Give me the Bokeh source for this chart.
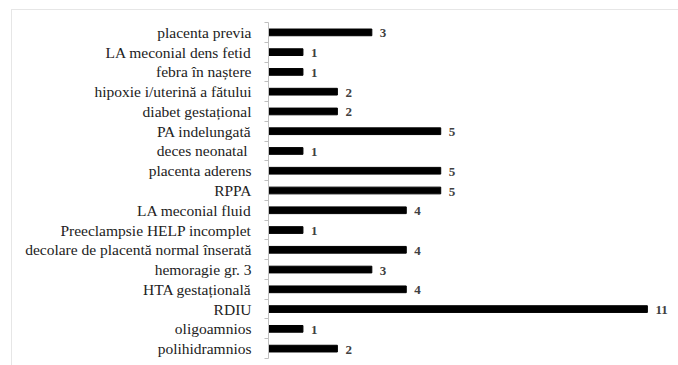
from bokeh.plotting import figure
from bokeh.models import Range1d, FixedTicker, ColumnDataSource
from bokeh.core.properties import value
from bokeh.embed import file_html
from bokeh.resources import INLINE

# categories listed top to bottom as in the chart
categories = [
    "placenta previa",
    "LA meconial dens fetid",
    "febra în naștere",
    "hipoxie i/uterină a fătului",
    "diabet gestațional",
    "PA indelungată",
    "deces neonatal ",
    "placenta aderens",
    "RPPA",
    "LA meconial fluid",
    "Preeclampsie HELP incomplet",
    "decolare de placentă normal înserată",
    "hemoragie gr. 3",
    "HTA gestațională",
    "RDIU",
    "oligoamnios",
    "polihidramnios",
]
counts = [3, 1, 1, 2, 2, 5, 1, 5, 5, 4, 1, 4, 3, 4, 11, 1, 2]

SERIF = "'Liberation Serif', 'Times New Roman', 'DejaVu Serif', serif"

n = len(categories)
ypos = [n - 1 - i for i in range(n)]
src = ColumnDataSource(dict(y=ypos, v=counts, lab=[str(c) for c in counts], cat=categories))

p = figure(width=667, height=356, output_backend="svg", toolbar_location=None,
           x_range=Range1d(0, 11.7), y_range=Range1d(-0.5, n - 0.5),
           min_border_left=256, min_border_right=8, min_border_top=12, min_border_bottom=8,
           background_fill_color="white", border_fill_color="white")
p.outline_line_color = None
p.xgrid.visible = False
p.ygrid.visible = False
p.xaxis.visible = False

p.hbar(y="y", right="v", left=0, height=0.34, color="black", source=src)
p.text(x="v", y="y", text="lab", source=src, x_offset=8, y_offset=1,
       text_align="left", text_baseline="middle",
       text_font=value(SERIF), text_font_size="13px",
       text_font_style="bold", text_color="#404040")

yax = p.yaxis[0]
yax.ticker = FixedTicker(ticks=ypos, minor_ticks=[k - 0.5 for k in range(n + 1)])
yax.major_label_overrides = {y: c for y, c in zip(ypos, categories)}
yax.major_tick_line_color = None
yax.major_tick_in = 0
yax.major_tick_out = 0
yax.minor_tick_line_color = "#bfbfbf"
yax.minor_tick_in = 0
yax.minor_tick_out = 4
yax.axis_line_color = "#bfbfbf"
yax.major_label_standoff = 13
yax.major_label_text_font = SERIF
yax.major_label_text_font_size = "15.5px"
yax.major_label_text_color = "#222222"

p.styles = {"margin-top": "9px", "margin-left": "11px",
            "border-top": "1px solid #e6e6e6", "border-left": "1px solid #e6e6e6"}

open("out.html", "w").write(file_html(p, INLINE))
